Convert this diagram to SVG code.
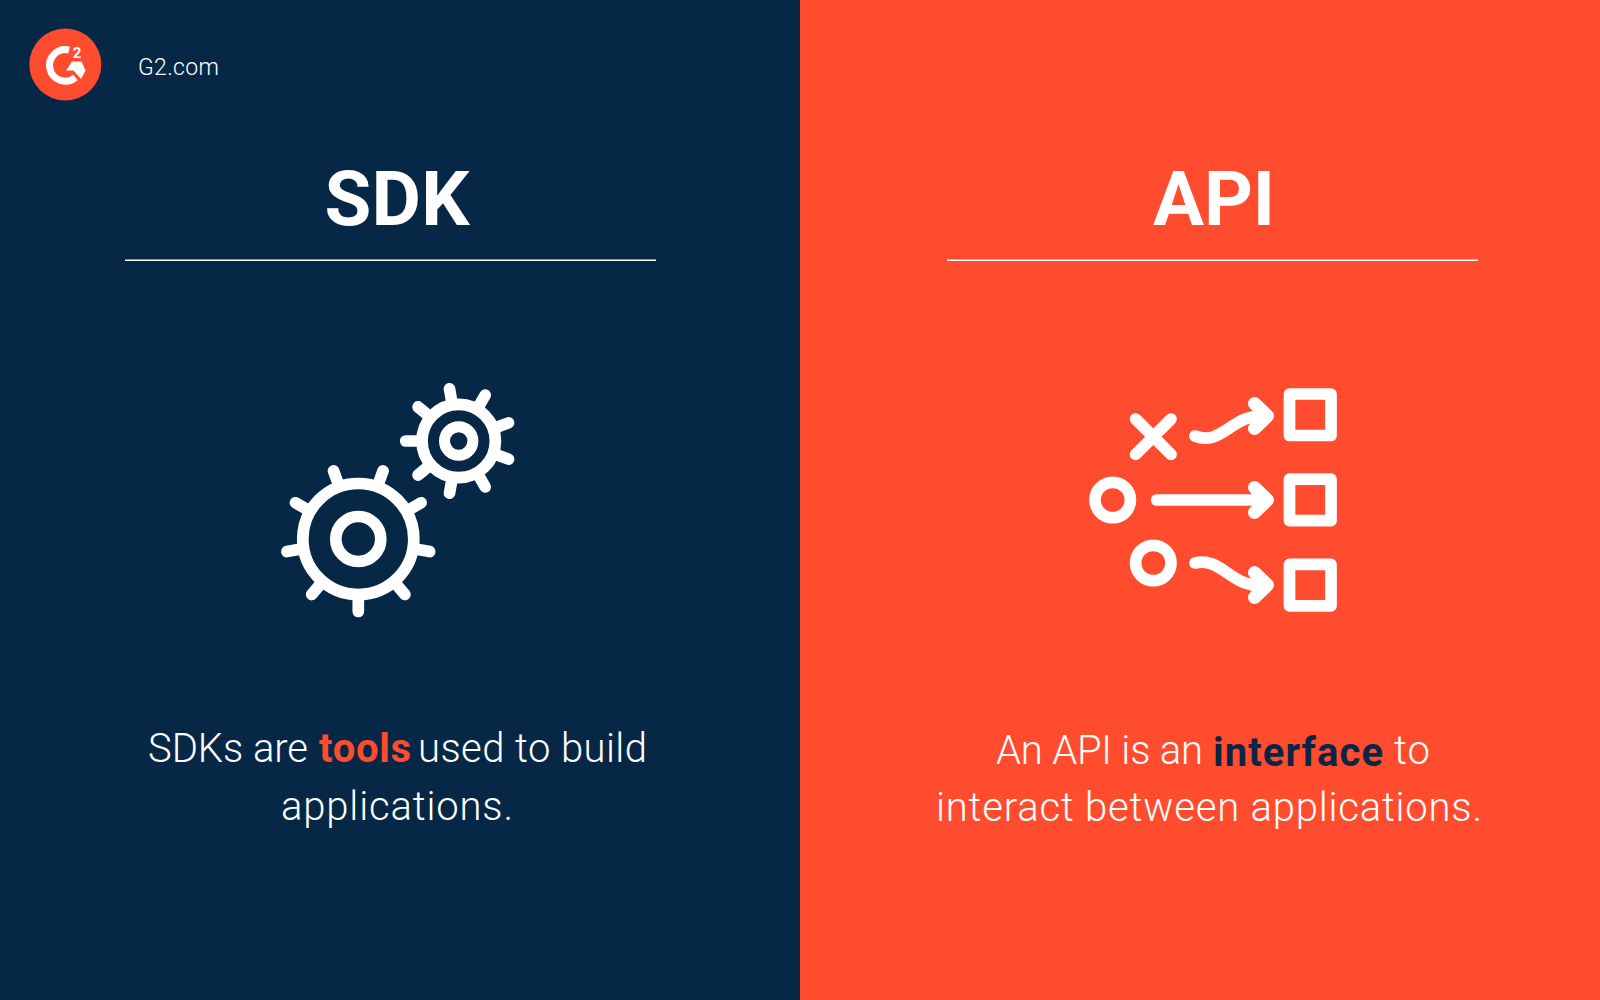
<svg xmlns="http://www.w3.org/2000/svg" width="1600" height="1000" viewBox="0 0 1600 1000">
<style>
.t{font-family:"Roboto","Liberation Sans",sans-serif;fill:#fff}
.h{font-size:76px;font-weight:700;text-anchor:middle}
.b{font-size:40px;font-weight:300}
.k{font-weight:700}
.i{fill:none;stroke:#fff;stroke-linecap:round;stroke-linejoin:round;stroke-width:11.700}
</style>
<defs>
<path id="arrowhead" d="M-13-12.500 0 0-13 12.500" fill="none" stroke="#fff" stroke-width="13" stroke-linecap="round" stroke-linejoin="round"/>
</defs>
<rect width="800" height="1000" fill="#062846"/>
<rect x="800" width="800" height="1000" fill="#ff4c2e"/>
<g id="logo">
<circle cx="65.300" cy="64.500" r="36" fill="#ff4c2e"/>
<path d="M69 50A15.800 15.800 0 1 0 75.500 77.500" fill="none" stroke="#fff" stroke-width="7"/>
<polygon points="66,70.500 72,61.500 81.500,61.500 85.500,70.500 81,79 73.500,70.500" fill="#fff"/>
<text class="t k" x="77" y="58" font-size="15" text-anchor="middle">2</text>
<text class="t" x="138" y="75" font-size="23" font-weight="300" textLength="81">G2.com</text>
</g>
<g id="sdk">
<text class="t h" x="397" y="225" textLength="145">SDK</text>
<rect x="125" y="259.500" width="531" height="1.500" fill="#fff"/>
<g id="gear-big" class="i" transform="translate(358.300 539)">
<circle r="55.500"/><circle r="22.500"/>
<path d="M0 58V72.500"/>
<path d="M0 58V72.500" transform="rotate(40)"/><path d="M0 58V72.500" transform="rotate(80)"/><path d="M0 58V72.500" transform="rotate(120)"/><path d="M0 58V72.500" transform="rotate(160)"/><path d="M0 58V72.500" transform="rotate(200)"/><path d="M0 58V72.500" transform="rotate(240)"/><path d="M0 58V72.500" transform="rotate(280)"/><path d="M0 58V72.500" transform="rotate(320)"/>
</g>
<g id="gear-small" class="i" transform="translate(458.700 441)">
<circle r="36.700"/><circle r="14.200" stroke-width="11"/>
<path d="M0 38V53" transform="rotate(10)"/><path d="M0 38V53" transform="rotate(50)"/><path d="M0 38V53" transform="rotate(90)"/><path d="M0 38V53" transform="rotate(130)"/><path d="M0 38V53" transform="rotate(170)"/><path d="M0 38V53" transform="rotate(210)"/><path d="M0 38V53" transform="rotate(250)"/><path d="M0 38V53" transform="rotate(290)"/><path d="M0 38V53" transform="rotate(330)"/>
</g>
<text class="t b" x="148" y="762" textLength="160">SDKs are</text>
<text class="t b k" x="319" y="762" style="fill:#ff4c2e" textLength="92">tools</text>
<text class="t b" x="418" y="762" textLength="229">used to build</text>
<text class="t b" x="281" y="820" textLength="232">applications.</text>
</g>
<g id="api">
<text class="t h" x="1214" y="225" textLength="122">API</text>
<rect x="947" y="259.500" width="531" height="1.500" fill="#fff"/>
<g id="icon-left" class="i">
<path d="M1135.600 419 1171 454.400M1171 419 1135.600 454.400"/>
<circle cx="1112.700" cy="500" r="17.700"/>
<circle cx="1153.300" cy="563" r="17.700"/>
</g>
<g id="icon-squares" class="i">
<rect x="1289.500" y="394" width="41.500" height="41.500"/>
<rect x="1289.500" y="479.200" width="41.500" height="41.500"/>
<rect x="1289.500" y="564.400" width="41.500" height="41.500"/>
</g>
<g id="connectors" class="i">
<path d="M1195 436C1222 447 1232 413 1266 416"/>
<path d="M1156.700 500H1266"/>
<path d="M1195 563C1222 556 1232 590 1266 585"/>
<use href="#arrowhead" x="1267.500" y="416"/>
<use href="#arrowhead" x="1267.500" y="500"/>
<use href="#arrowhead" x="1267.500" y="585"/>
</g>
<text class="t b" x="996" y="764" textLength="207">An API is an</text>
<text class="t b k" x="1213" y="766" style="fill:#0b2545" textLength="170">interface</text>
<text class="t b" x="1394" y="764" textLength="36">to</text>
<text class="t b" x="936" y="821" textLength="546">interact between applications.</text>
</g>
</svg>
